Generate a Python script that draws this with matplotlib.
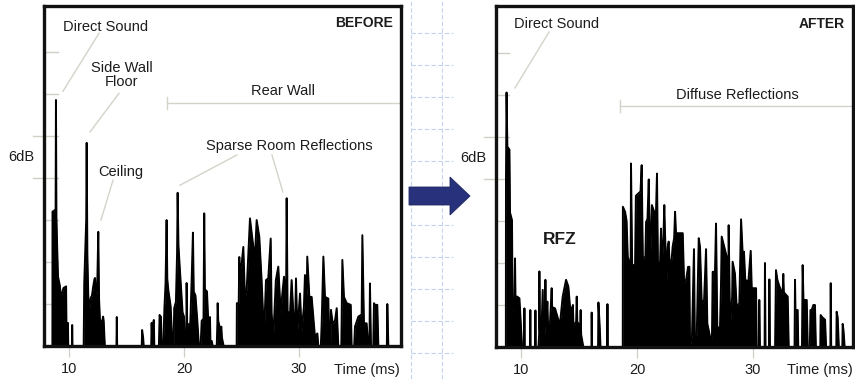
import matplotlib
matplotlib.use('Agg')
import matplotlib.pyplot as plt
from matplotlib.lines import Line2D
from matplotlib.patches import Polygon

plt.rcParams['font.family'] = ['Liberation Sans', 'DejaVu Sans']

# ---------------- data (time in ms, level in grid steps) ----------------
x_ticks = [10, 20, 30]
x_tick_labels = ['10', '20', '30']
y_grid = [1, 2, 3, 4, 5, 6, 7]
y_grid_long = [4, 5]

before_direct = [(8.56, 0), (8.57, 3.2), (8.84, 3.25), (8.87, 5.86), (8.91, 3.1), (8.97, 2.4),
                 (9.05, 1.65), (9.2, 1.45), (9.3, 1.17), (9.4, 1.25), (9.52, 1.38), (9.75, 1.42),
                 (9.80, 0), (9.89, 0), (9.91, 0.55), (9.94, 0), (10.26, 0), (10.28, 0.5), (10.31, 0)]
before_side_ceiling = [(11.28, 0), (11.33, 1.5), (11.50, 3.0), (11.54, 4.84), (11.60, 2.2), (11.68, 1.2),
                       (11.76, 0.86), (11.9, 1.15), (12.0, 1.2), (12.1, 1.4), (12.22, 1.6), (12.27, 1.62),
                       (12.35, 1.2), (12.45, 1.3), (12.55, 2.72), (12.62, 1.1), (12.70, 0.6), (12.9, 0.6),
                       (12.97, 0.7), (13.02, 0.6), (13.12, 0)]
before_isolated = [(14.13, 0), (14.16, 0.69), (14.19, 0), (16.33, 0), (16.36, 0.38), (16.45, 0.2), (16.5, 0)]
before_rear = [(17.15, 0), (17.19, 0.55), (17.22, 0.3), (17.30, 0.5), (17.38, 0.62), (17.42, 0),
               (17.82, 0), (17.88, 0.74), (17.95, 0.7), (18.0, 0.7), (18.05, 0), (18.20, 0), (18.30, 0.9),
               (18.40, 1.5), (18.49, 3.0), (18.55, 1.6), (18.64, 1.33), (18.84, 0.95), (19.0, 0), (19.1, 0),
               (19.15, 0.9), (19.30, 1.05), (19.40, 2.2), (19.45, 3.65), (19.52, 2.4), (19.65, 1.8),
               (19.88, 0.8), (20.0, 0.7), (20.08, 0), (20.20, 0), (20.23, 1.5), (20.28, 0.5), (20.38, 0.5),
               (20.55, 0.55), (20.67, 1.6), (20.78, 2.7), (20.85, 1.3), (21.0, 1.2), (21.16, 0.6), (21.3, 0),
               (21.45, 0), (21.54, 0.6), (21.70, 0.65), (21.76, 3.16), (21.82, 1.35), (22.0, 1.3),
               (22.11, 0.6), (22.20, 0.2), (22.26, 0.69), (22.30, 0.1), (22.41, 0.12), (22.50, 0),
               (22.85, 0), (22.9, 0.5), (22.93, 1.02), (22.98, 0.6), (23.15, 0.4), (23.25, 0.46),
               (23.3, 0.2), (23.45, 0)]
before_sparse = [(24.58, 0), (24.60, 1.02), (24.76, 1.02), (24.81, 2.12), (24.86, 1.6), (24.93, 1.89),
                 (25.02, 1.97), (25.16, 2.36), (25.30, 1.17), (25.45, 1.33), (25.74, 3.04), (26.03, 2.36),
                 (26.17, 2.13), (26.32, 3.0), (26.55, 2.6), (26.75, 1.57), (26.96, 0.22), (27.13, 1.57),
                 (27.33, 1.61), (27.54, 2.56), (27.62, 0.78), (27.77, 0.22), (27.99, 1.57), (28.20, 1.89),
                 (28.41, 0.78), (28.58, 1.33), (28.70, 1.65), (28.87, 0.78), (28.93, 3.52), (29.01, 0.82),
                 (29.22, 0.78), (29.36, 1.57), (29.51, 0.78), (29.65, 0.34), (29.74, 1.61), (29.86, 0.34),
                 (30.09, 1.25), (30.23, 0.34), (30.43, 0.94), (30.52, 1.69), (30.67, 1.17), (30.72, 2.13),
                 (30.90, 1.17), (31.10, 1.17), (31.39, 0.22), (31.6, 0.30), (31.68, 0),
                 (31.9, 0), (31.97, 0.5), (32.12, 2.13), (32.26, 1.17), (32.55, 1.13), (32.64, 0),
                 (32.74, 0), (32.78, 0.86), (32.93, 0.54), (33.13, 0.6), (33.28, 0.9), (33.42, 0),
                 (33.68, 0), (33.71, 0.62), (33.77, 2.05), (33.91, 1.17), (34.15, 1.02), (34.5, 0.98),
                 (34.58, 0), (34.8, 0), (34.87, 0.46), (35.16, 0.70), (35.45, 0.75), (35.51, 2.64),
                 (35.65, 0.54), (35.88, 0.54), (36.03, 0), (36.13, 0), (36.17, 1.49), (36.26, 0),
                 (36.46, 0), (36.52, 1.02), (36.61, 0.98), (36.81, 0.98), (36.9, 0),
                 (37.64, 0), (37.68, 1.0), (37.77, 0)]

after_direct = [(8.69, 0), (8.70, 4.0), (8.75, 6.06), (8.82, 4.77), (9.0, 4.7), (9.05, 3.2), (9.22, 3.02),
                (9.27, 0.88), (9.42, 0.9), (9.48, 2.11), (9.52, 1.2), (9.66, 1.2), (9.86, 1.16), (10.09, 0)]
after_rfz = [(10.27, 0), (10.29, 0.92), (10.31, 0), (10.78, 0), (10.80, 0.88), (10.82, 0), (11.22, 0),
             (11.24, 0.87), (11.26, 0), (11.50, 0), (11.56, 0.3), (11.58, 1.80), (11.62, 0.4), (11.75, 0.3),
             (11.87, 1.36), (11.92, 0.3), (12.05, 0.35), (12.10, 1.6), (12.15, 0.5), (12.27, 1.08),
             (12.32, 0.55), (12.5, 0.6), (12.64, 1.40), (12.68, 0.95), (12.93, 0.92), (13.22, 0.64),
             (13.36, 0.56), (13.59, 1.2), (13.88, 1.6), (14.08, 1.44), (14.22, 0.96), (14.42, 0.9),
             (14.47, 1.0), (14.52, 0.5), (14.75, 0.6), (14.80, 1.2), (14.85, 0.6), (14.94, 0.56),
             (15.10, 0.5), (15.14, 0.88), (15.18, 0.3), (15.37, 0),
             (16.07, 0), (16.09, 0.82), (16.12, 0), (16.64, 0), (16.67, 1.06), (16.78, 0.5), (16.85, 0),
             (17.42, 0), (17.45, 1.02), (17.48, 0)]
after_diffuse = [(18.77, 0), (18.78, 3.34), (18.97, 3.22), (19.10, 3.0), (19.20, 2.15), (19.40, 1.95),
                 (19.45, 1.95), (19.48, 4.37), (19.58, 1.95), (19.83, 1.95), (19.90, 3.6), (20.20, 3.68),
                 (20.30, 3.7), (20.40, 4.33), (20.5, 2.11), (20.72, 2.15), (20.78, 2.98), (20.9, 3.05),
                 (21.01, 3.99), (21.12, 1.91), (21.28, 3.38), (21.48, 3.22), (21.62, 3.05), (21.72, 4.13),
                 (21.8, 2.03), (21.98, 1.95), (22.07, 2.82), (22.14, 1.91), (22.28, 2.63), (22.35, 3.38),
                 (22.42, 2.63), (22.56, 1.60), (22.65, 2.39), (22.73, 2.51), (22.8, 2.03), (22.98, 2.07),
                 (23.07, 2.39), (23.2, 2.59), (23.28, 3.22), (23.36, 2.71), (23.94, 2.71), (24.06, 1.52),
                 (24.24, 1.61), (24.40, 1.91), (24.51, 1.91), (24.57, 0), (24.74, 0.29), (24.91, 2.33),
                 (24.98, 0.29), (25.15, 0.29), (25.32, 2.59), (25.43, 2.39), (25.58, 1.04), (25.78, 1.12),
                 (25.95, 2.33), (26.06, 0.56), (26.29, 0.25), (26.46, 0.21), (26.52, 1.79), (26.72, 1.79),
                 (26.81, 2.94), (26.92, 0.48), (27.15, 0.44), (27.24, 1.5), (27.30, 2.63), (27.73, 2.15),
                 (27.79, 0.48), (27.86, 0.5), (27.90, 2.90), (28.02, 0.48), (28.20, 1.2), (28.24, 2.03),
                 (28.44, 1.75), (28.59, 0.96), (28.82, 1.04), (28.97, 3.04), (29.1, 2.27), (29.16, 1.5),
                 (29.22, 2.27), (29.33, 1.6), (29.6, 1.56), (29.8, 2.29), (29.89, 1.40), (30.26, 1.40),
                 (30.32, 0), (30.51, 0), (30.54, 1.12), (30.60, 0), (31.0, 0), (31.03, 2.0), (31.08, 0),
                 (31.38, 0), (31.41, 1.61), (31.46, 0),
                 (31.9, 0), (31.95, 1.2), (31.98, 1.83), (32.1, 1.6), (32.27, 1.45), (32.55, 1.25),
                 (32.61, 1.74), (32.66, 1.3), (32.99, 1.2), (33.08, 0), (33.58, 0), (33.62, 1.60),
                 (33.66, 0.88), (33.85, 0.88), (33.9, 0), (34.22, 0), (34.28, 1.95), (34.35, 1.12),
                 (34.63, 1.12), (34.72, 0), (34.9, 0), (34.95, 0.88), (35.06, 0.88), (35.2, 1.0),
                 (35.34, 1.0), (35.42, 0), (35.8, 0), (35.83, 0.76), (36.0, 0.7), (36.21, 0.65),
                 (36.3, 0), (36.67, 0), (36.70, 1.52), (36.74, 0), (37.18, 0), (37.21, 0.84), (37.3, 0.7),
                 (37.4, 0), (37.7, 0), (37.73, 0.55), (37.8, 0.4), (37.9, 0)]

before_segments = [before_direct, before_side_ceiling, before_isolated, before_rear, before_sparse]
after_segments = [after_direct, after_rfz, after_diffuse]

# ---------------- figure ----------------
W, H = 855, 379
fig = plt.figure(figsize=(W / 100, H / 100), dpi=100)
fig.patch.set_facecolor('white')


def px_rect(x0, y0, x1, y1):
    return [x0 / W, 1 - y1 / H, (x1 - x0) / W, (y1 - y0) / H]


# background dashed guide grid between panels
grid_col = '#c6d3f0'
for gx in (411, 442):
    fig.add_artist(Line2D([gx / W, gx / W], [0, 1], transform=fig.transFigure,
                          color=grid_col, lw=0.8, ls=(0, (4, 2)), zorder=0))
for k in range(11):
    gy = 33 + 32 * k
    fig.add_artist(Line2D([411 / W, 453 / W], [1 - gy / H, 1 - gy / H], transform=fig.transFigure,
                          color=grid_col, lw=0.8, ls=(0, (4, 2)), zorder=0))

ax1 = fig.add_axes(px_rect(44, 6, 401, 346))
ax2 = fig.add_axes(px_rect(496, 6, 853, 347))

text_col = '#1c1c1c'
guide_col = '#d3d3ca'
tick_col = '#cfcfc6'
FS = 10.5


def draw_panel(ax, segments, xlim, ylim, inner, outer):
    ax.set_xlim(*xlim)
    ax.set_ylim(*ylim)
    ax.set_facecolor('none')
    for seg in segments:
        t = [p[0] for p in seg]
        v = [p[1] for p in seg]
        ax.fill_between(t, 0, v, color='black', lw=0, zorder=2)
        ax.plot(t, v, color='black', lw=1.4, zorder=2, solid_joinstyle='round')
    for s in ax.spines.values():
        s.set_linewidth(2.4)
        s.set_color('#111111')
        s.set_zorder(5)
    ax.set_yticks([])
    ax.set_xticks(x_ticks)
    ax.set_xticklabels(x_tick_labels)
    ax.tick_params(axis='x', direction='out', length=8, width=0.9, color=tick_col,
                   pad=3.5, labelsize=FS, labelcolor=text_col)
    ytr = ax.get_yaxis_transform()
    for g in y_grid:
        x0 = outer if g in y_grid_long else 0
        ax.plot([x0, inner], [g, g], transform=ytr, color=tick_col, lw=1.0,
                clip_on=False, zorder=1)
    ax.text(-0.064, 4.5, '6dB', transform=ytr, ha='center', va='center',
            fontsize=FS, color=text_col)


draw_panel(ax1, before_segments, (7.83, 38.87), (0, 8.10), 0.039, -0.031)
draw_panel(ax2, after_segments, (7.84, 38.62), (0, 8.12), 0.036, -0.034)


def guide(ax, x0, y0, x1, y1):
    ax.plot([x0, x1], [y0, y1], color=guide_col, lw=1.0, clip_on=False, zorder=3)


# BEFORE annotations
ax1.text(13.17, 7.60, 'Direct Sound', ha='center', va='center', fontsize=FS, color=text_col)
guide(ax1, 12.61, 7.45, 9.48, 6.07)
ax1.text(14.61, 6.45, 'Side Wall\nFloor', ha='center', va='center', fontsize=FS,
         color=text_col, linespacing=1.0)
guide(ax1, 14.35, 6.02, 11.83, 5.10)
ax1.text(14.48, 4.14, 'Ceiling', ha='center', va='center', fontsize=FS, color=text_col)
guide(ax1, 13.83, 3.95, 12.78, 3.0)
guide(ax1, 18.52, 5.79, 38.87, 5.79)
guide(ax1, 18.52, 5.64, 18.52, 5.93)
ax1.text(28.6, 6.07, 'Rear Wall', ha='center', va='center', fontsize=FS, color=text_col)
ax1.text(29.2, 4.76, 'Sparse Room Reflections', ha='center', va='center', fontsize=FS, color=text_col)
guide(ax1, 24.6, 4.55, 19.65, 3.83)
guide(ax1, 27.65, 4.55, 28.6, 3.67)
ax1.text(0.978, 0.95, 'BEFORE', transform=ax1.transAxes, ha='right', va='center',
         fontsize=10, fontweight='bold', color=text_col)
ax1.text(0.905, -0.07, 'Time (ms)', transform=ax1.transAxes, ha='center', va='center',
         fontsize=FS, color=text_col)

# AFTER annotations
ax2.text(13.1, 7.69, 'Direct Sound', ha='center', va='center', fontsize=FS, color=text_col)
guide(ax2, 12.41, 7.5, 9.48, 6.17)
guide(ax2, 18.53, 5.74, 38.62, 5.74)
guide(ax2, 18.53, 5.59, 18.53, 5.88)
ax2.text(28.62, 6.0, 'Diffuse Reflections', ha='center', va='center', fontsize=FS, color=text_col)
ax2.text(13.36, 2.57, 'RFZ', ha='center', va='center', fontsize=12.5, fontweight='bold', color=text_col)
ax2.text(0.978, 0.947, 'AFTER', transform=ax2.transAxes, ha='right', va='center',
         fontsize=10, fontweight='bold', color=text_col)
ax2.text(0.908, -0.067, 'Time (ms)', transform=ax2.transAxes, ha='center', va='center',
         fontsize=FS, color=text_col)

# arrow between panels
arrow_px = [(409, 187), (450, 187), (450, 177), (470, 196), (450, 215), (450, 205), (409, 205)]
arrow = Polygon([(x / W, 1 - y / H) for x, y in arrow_px], closed=True, transform=fig.transFigure,
                facecolor='#28327c', edgecolor='#1e275f', lw=0.6, zorder=4)
fig.add_artist(arrow)

fig.savefig('out.png', dpi=100, facecolor='white')
